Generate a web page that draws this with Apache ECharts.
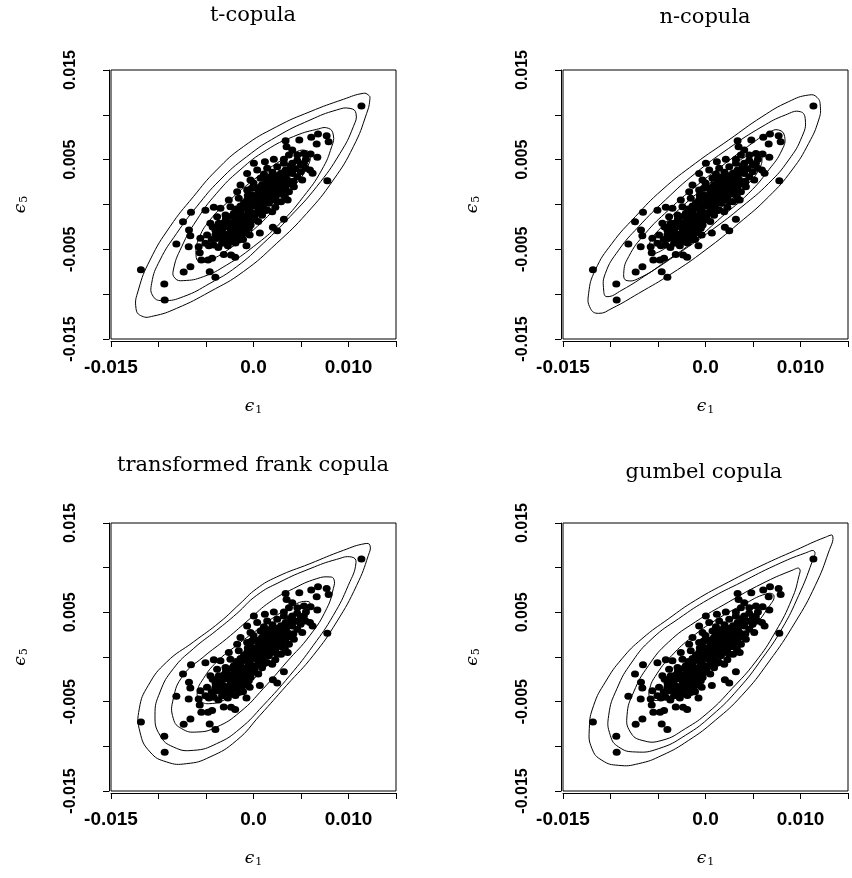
<!DOCTYPE html>
<html>
<head>
<meta charset="utf-8">
<title>copula contours</title>
<script src="https://cdn.jsdelivr.net/npm/echarts@6/dist/echarts.min.js"></script>
<style>
  html, body { margin: 0; padding: 0; background: #fff; }
  #main { width: 852px; height: 878px; }
</style>
</head>
<body>
<div id="main"></div>
<script>
// (eps1, eps5) residual pairs, the same sample is drawn in all four panels
var points = [
  [0.00338,0.00712],[0.00482,0.00719],[0.00608,0.00749],[0.00679,0.00786],[0.00770,0.00767],
  [0.00791,0.00700],[0.00665,0.00674],[0.00348,0.00645],[0.00408,0.00608],[0.00373,0.00552],
  [0.00461,0.00552],[0.00531,0.00570],[0.00601,0.00563],[0.00672,0.00526],[0.00552,0.00504],
  [0.00777,0.00266],[0.00622,0.00348],[0.00004,0.00459],[0.00120,0.00478],[0.00214,0.00504],
  [0.00320,0.00504],[0.00408,0.00459],[0.00496,0.00440],[-0.00067,0.00347],[0.00039,0.00385],
  [0.00144,0.00403],[0.00250,0.00422],[0.00338,0.00385],[0.00408,0.00347],[0.00496,0.00366],
  [0.00549,0.00403],[0.00594,0.00385],[-0.00137,0.00217],[-0.00032,0.00273],[0.00074,0.00292],
  [0.00179,0.00310],[0.00285,0.00292],[0.00355,0.00273],[0.00461,0.00310],[0.00513,0.00273],
  [-0.00172,0.00143],[-0.00067,0.00162],[0.00039,0.00180],[0.00144,0.00199],[0.00232,0.00217],
  [0.00338,0.00199],[0.00425,0.00199],[-0.00260,0.00050],[-0.00155,0.00069],[-0.00067,0.00050],
  [0.00004,0.00087],[0.00109,0.00106],[0.00197,0.00106],[0.00285,0.00117],[0.00373,0.00143],
  [-0.00348,-0.00043],[-0.00243,-0.00024],[-0.00137,-0.00017],[-0.00032,-0.00006],[0.00074,0.00013],
  [0.00162,0.00013],[0.00250,0.00032],[-0.00418,-0.00032],[-0.00506,-0.00065],[-0.00383,-0.00136],
  [-0.00295,-0.00117],[-0.00207,-0.00098],[-0.00120,-0.00117],[-0.00032,-0.00080],[0.00056,-0.00061],
  [0.00144,-0.00061],[0.00197,-0.00080],[-0.00559,-0.00377],[-0.00489,-0.00340],[-0.00401,-0.00340],
  [-0.00313,-0.00321],[-0.00225,-0.00303],[-0.00137,-0.00284],[-0.00049,-0.00266],[-0.00454,-0.00210],
  [-0.00366,-0.00210],[-0.00278,-0.00191],[-0.00190,-0.00173],[-0.00102,-0.00191],[-0.00014,-0.00173],
  [-0.00577,-0.00470],[-0.00506,-0.00433],[-0.00418,-0.00451],[-0.00331,-0.00433],[-0.00243,-0.00414],
  [-0.00155,-0.00396],[-0.00306,-0.00247],[-0.00207,-0.00247],[-0.00566,-0.00537],[-0.00549,-0.00619],
  [-0.00478,-0.00619],[-0.00436,-0.00600],[-0.00313,-0.00559],[-0.00236,-0.00563],[-0.00193,-0.00589],
  [-0.00074,-0.00459],[0.00067,-0.00318],[0.00204,-0.00255],[0.00250,-0.00292],[0.00320,-0.00165],
  [-0.00812,-0.00440],[-0.00742,-0.00191],[-0.00658,-0.00087],[-0.00679,-0.00284],[-0.00665,-0.00348],
  [-0.00682,-0.00470],[-0.01185,-0.00727],[-0.00939,-0.00886],[-0.00935,-0.01065],[-0.00735,-0.00753],
  [-0.00664,-0.00693],[-0.00461,-0.00749],[-0.00401,-0.00812],[0.01136,0.01098],
  [-0.00260,-0.00230],[-0.00220,-0.00200],[-0.00180,-0.00220],[-0.00140,-0.00200],[-0.00100,-0.00240],
  [-0.00060,-0.00210],[-0.00240,-0.00280],[-0.00200,-0.00320],[-0.00160,-0.00300],[-0.00120,-0.00330],
  [-0.00080,-0.00310],[-0.00040,-0.00340],[-0.00190,-0.00140],[-0.00150,-0.00160],[-0.00110,-0.00130],
  [-0.00070,-0.00150],[-0.00030,-0.00120],[0.00010,-0.00140],[-0.00280,-0.00360],[-0.00220,-0.00360],
  [-0.00170,-0.00350],[-0.00340,-0.00300],[-0.00360,-0.00260],[-0.00290,-0.00160],[-0.00130,-0.00060],
  [-0.00090,-0.00030],[-0.00050,-0.00090],[0.00020,-0.00020],[0.00050,-0.00190],[0.00090,-0.00120],
  [-0.00390,-0.00380],[-0.00340,-0.00360],[-0.00440,-0.00390],[-0.00470,-0.00460],[-0.00370,-0.00480],
  [-0.00270,-0.00460],[-0.00190,-0.00430],[-0.00110,-0.00390],
  [0.00030,0.00040],[0.00070,0.00060],[0.00110,0.00040],[0.00150,0.00070],[0.00190,0.00050],
  [0.00230,0.00080],[0.00050,0.00130],[0.00090,0.00150],[0.00130,0.00130],[0.00170,0.00160],
  [0.00210,0.00140],[0.00260,0.00170],[0.00300,0.00150],[0.00330,0.00090],[0.00090,0.00220],
  [0.00130,0.00250],[0.00170,0.00230],[0.00210,0.00260],[0.00250,0.00240],[0.00300,0.00260],
  [0.00360,0.00230],[0.00110,0.00340],[0.00200,0.00360],[0.00290,0.00350],[0.00340,0.00320],
  [0.00440,0.00400],[0.00390,0.00430],[0.00320,0.00460],[0.00460,0.00490],[0.00530,0.00460],
  [0.00230,-0.00030],[0.00290,0.00030],[0.00360,0.00050],[0.00000,0.00240],[-0.00020,0.00110],
  [-0.00060,0.00100],[-0.00100,0.00020],[-0.00180,-0.00050],[-0.00230,-0.00130],[-0.00310,-0.00200],
  [0.00420,0.00260],
  [-0.00320,-0.00380],[-0.00250,-0.00330],[-0.00150,-0.00250],[-0.00090,-0.00270],[-0.00030,-0.00230],
  [-0.00200,-0.00260],[-0.00120,-0.00170],[-0.00170,-0.00100],[-0.00050,-0.00050],[0.00040,-0.00090],
  [0.00010,0.00040],[0.00080,0.00090],[0.00120,0.00180],[0.00060,0.00190],[0.00160,0.00100],
  [0.00200,0.00190],[0.00240,0.00130],[0.00270,0.00210],[0.00150,0.00290],[0.00240,0.00320],
  [-0.00400,-0.00290],[-0.00430,-0.00250],[-0.00270,-0.00400],[-0.00150,-0.00360],[-0.00060,-0.00180],
  [0.00100,-0.00030],[0.00350,0.00280],[0.00380,0.00370],[-0.00020,0.00180],[0.00120,-0.00070]
];

// density contours, inner level first
var tContours = [
  [[0.00595,0.00552],[0.00560,0.00600],[0.00454,0.00589],[0.00244,0.00459],[-0.00002,0.00273],[-0.00247,0.00050],[-0.00458,-0.00173],[-0.00581,-0.00396],[-0.00605,-0.00563],[-0.00570,-0.00638],[-0.00458,-0.00619],[-0.00247,-0.00489],[-0.00002,-0.00284],[0.00244,-0.00024],[0.00454,0.00236],[0.00577,0.00440]],
  [[0.00840,0.00775],[0.00788,0.00850],[0.00665,0.00838],[0.00419,0.00757],[0.00138,0.00608],[-0.00142,0.00385],[-0.00388,0.00125],[-0.00598,-0.00173],[-0.00756,-0.00471],[-0.00844,-0.00731],[-0.00826,-0.00823],[-0.00739,-0.00849],[-0.00528,-0.00805],[-0.00283,-0.00675],[-0.00002,-0.00471],[0.00279,-0.00211],[0.00525,0.00087],[0.00718,0.00385],[0.00823,0.00645]],
  [[0.01079,0.01016],[0.01016,0.01072],[0.00875,0.01054],[0.00595,0.00942],[0.00244,0.00757],[-0.00072,0.00533],[-0.00353,0.00273],[-0.00598,-0.00024],[-0.00809,-0.00322],[-0.00984,-0.00619],[-0.01072,-0.00879],[-0.01054,-0.01028],[-0.00949,-0.01072],[-0.00739,-0.01028],[-0.00458,-0.00879],[-0.00177,-0.00693],[0.00103,-0.00433],[0.00384,-0.00136],[0.00665,0.00199],[0.00911,0.00571],[0.01051,0.00868]],
  [[0.01226,0.01184],[0.01209,0.01221],[0.01156,0.01240],[0.00946,0.01173],[0.00595,0.01035],[0.00244,0.00868],[-0.00107,0.00645],[-0.00388,0.00385],[-0.00633,0.00087],[-0.00879,-0.00247],[-0.01089,-0.00619],[-0.01212,-0.00954],[-0.01237,-0.01158],[-0.01177,-0.01244],[-0.01054,-0.01244],[-0.00809,-0.01158],[-0.00458,-0.00972],[-0.00107,-0.00749],[0.00244,-0.00433],[0.00560,-0.00099],[0.00840,0.00273],[0.01051,0.00645],[0.01191,0.01016]]
];
var nContours = [
  [[0.00595,0.00533],[0.00560,0.00589],[0.00454,0.00552],[0.00244,0.00403],[-0.00002,0.00199],[-0.00247,-0.00024],[-0.00458,-0.00247],[-0.00581,-0.00414],[-0.00591,-0.00526],[-0.00528,-0.00545],[-0.00353,-0.00433],[-0.00107,-0.00247],[0.00173,-0.00024],[0.00419,0.00199],[0.00560,0.00385]],
  [[0.00833,0.00757],[0.00770,0.00831],[0.00665,0.00801],[0.00490,0.00682],[0.00209,0.00459],[-0.00107,0.00199],[-0.00388,-0.00061],[-0.00633,-0.00322],[-0.00809,-0.00582],[-0.00861,-0.00768],[-0.00826,-0.00849],[-0.00668,-0.00805],[-0.00423,-0.00638],[-0.00107,-0.00396],[0.00173,-0.00136],[0.00454,0.00125],[0.00665,0.00385],[0.00805,0.00608]],
  [[0.01051,0.00942],[0.00998,0.01035],[0.00840,0.00998],[0.00595,0.00868],[0.00244,0.00626],[-0.00107,0.00348],[-0.00423,0.00050],[-0.00704,-0.00247],[-0.00914,-0.00509],[-0.01054,-0.00768],[-0.01072,-0.00954],[-0.01037,-0.01028],[-0.00879,-0.00954],[-0.00598,-0.00768],[-0.00283,-0.00545],[0.00068,-0.00284],[0.00384,-0.00024],[0.00665,0.00236],[0.00875,0.00496],[0.01016,0.00757]],
  [[0.01209,0.01091],[0.01174,0.01195],[0.01086,0.01221],[0.00875,0.01147],[0.00595,0.00979],[0.00244,0.00719],[-0.00107,0.00459],[-0.00458,0.00162],[-0.00739,-0.00136],[-0.00984,-0.00433],[-0.01160,-0.00731],[-0.01230,-0.00991],[-0.01212,-0.01158],[-0.01125,-0.01214],[-0.00984,-0.01158],[-0.00704,-0.00991],[-0.00353,-0.00768],[-0.00002,-0.00509],[0.00349,-0.00211],[0.00665,0.00087],[0.00911,0.00385],[0.01086,0.00682],[0.01191,0.00942]]
];
var fContours = [
  [[0.00595,0.00597],[0.00560,0.00623],[0.00454,0.00597],[0.00244,0.00466],[0.00033,0.00299],[-0.00177,0.00131],[-0.00388,-0.00056],[-0.00528,-0.00243],[-0.00591,-0.00392],[-0.00563,-0.00485],[-0.00458,-0.00522],[-0.00283,-0.00466],[-0.00037,-0.00280],[0.00173,-0.00056],[0.00384,0.00205],[0.00542,0.00429]],
  [[0.00847,0.00869],[0.00805,0.00896],[0.00665,0.00877],[0.00419,0.00765],[0.00173,0.00616],[-0.00037,0.00429],[-0.00283,0.00205],[-0.00528,0.00000],[-0.00739,-0.00205],[-0.00844,-0.00466],[-0.00844,-0.00690],[-0.00756,-0.00802],[-0.00598,-0.00840],[-0.00388,-0.00784],[-0.00142,-0.00616],[0.00103,-0.00354],[0.00349,-0.00056],[0.00595,0.00243],[0.00770,0.00541],[0.00840,0.00765]],
  [[0.01079,0.01056],[0.01033,0.01119],[0.00875,0.01093],[0.00595,0.00989],[0.00279,0.00840],[0.00033,0.00690],[-0.00177,0.00485],[-0.00388,0.00299],[-0.00633,0.00093],[-0.00844,-0.00131],[-0.00984,-0.00392],[-0.01037,-0.00653],[-0.00984,-0.00877],[-0.00844,-0.01007],[-0.00633,-0.01045],[-0.00388,-0.00970],[-0.00142,-0.00802],[0.00103,-0.00541],[0.00384,-0.00205],[0.00630,0.00131],[0.00840,0.00466],[0.00998,0.00802]],
  [[0.01226,0.01250],[0.01174,0.01269],[0.00946,0.01194],[0.00595,0.01045],[0.00244,0.00896],[0.00033,0.00765],[-0.00142,0.00597],[-0.00353,0.00392],[-0.00633,0.00168],[-0.00914,-0.00056],[-0.01107,-0.00317],[-0.01202,-0.00578],[-0.01195,-0.00840],[-0.01089,-0.01063],[-0.00914,-0.01175],[-0.00704,-0.01194],[-0.00458,-0.01119],[-0.00177,-0.00933],[0.00068,-0.00653],[0.00349,-0.00317],[0.00630,0.00019],[0.00875,0.00392],[0.01086,0.00802],[0.01209,0.01138]]
];
var gContours = [
  [[0.00721,0.00683],[0.00647,0.00709],[0.00384,0.00578],[0.00103,0.00410],[-0.00142,0.00224],[-0.00353,0.00019],[-0.00511,-0.00187],[-0.00591,-0.00373],[-0.00570,-0.00466],[-0.00458,-0.00474],[-0.00247,-0.00354],[-0.00002,-0.00168],[0.00244,0.00056],[0.00490,0.00317],[0.00665,0.00560]],
  [[0.00988,0.00989],[0.00911,0.00970],[0.00595,0.00821],[0.00244,0.00616],[-0.00107,0.00392],[-0.00388,0.00168],[-0.00598,-0.00093],[-0.00756,-0.00392],[-0.00826,-0.00653],[-0.00791,-0.00840],[-0.00668,-0.00933],[-0.00458,-0.00933],[-0.00212,-0.00802],[0.00033,-0.00616],[0.00279,-0.00354],[0.00525,-0.00056],[0.00735,0.00280],[0.00911,0.00653],[0.00981,0.00896]],
  [[0.01146,0.01183],[0.01051,0.01164],[0.00735,0.01026],[0.00384,0.00840],[0.00033,0.00646],[-0.00283,0.00429],[-0.00563,0.00205],[-0.00774,-0.00056],[-0.00932,-0.00354],[-0.01019,-0.00653],[-0.01002,-0.00877],[-0.00914,-0.01007],[-0.00739,-0.01063],[-0.00493,-0.01026],[-0.00212,-0.00877],[0.00068,-0.00653],[0.00349,-0.00354],[0.00595,-0.00019],[0.00805,0.00317],[0.00981,0.00690],[0.01121,0.01063]],
  [[0.01339,0.01354],[0.01260,0.01340],[0.00946,0.01194],[0.00595,0.01026],[0.00244,0.00840],[-0.00107,0.00634],[-0.00388,0.00429],[-0.00668,0.00205],[-0.00879,-0.00019],[-0.01054,-0.00280],[-0.01177,-0.00541],[-0.01223,-0.00802],[-0.01195,-0.01026],[-0.01089,-0.01157],[-0.00914,-0.01213],[-0.00704,-0.01194],[-0.00458,-0.01101],[-0.00177,-0.00933],[0.00103,-0.00709],[0.00384,-0.00429],[0.00665,-0.00056],[0.00946,0.00392],[0.01156,0.00802],[0.01296,0.01175]]
];

var panelTitles = ['t-copula', 'n-copula', 'transformed frank copula', 'gumbel copula'];
var panelContours = [tContours, nContours, fContours, gContours];

var xTicks = [-0.015, 0, 0.01];
var xTickText = ['-0.015', '0.0', '0.010'];
var yTicks = [-0.015, -0.005, 0.005, 0.015];
var yTickText = ['-0.015', '-0.005', '0.005', '0.015'];

var boxes = [
  {left: 111, top: 70, width: 285, height: 269},
  {left: 563, top: 70, width: 285, height: 269},
  {left: 111, top: 523, width: 285, height: 268},
  {left: 563, top: 523, width: 285, height: 268}
];
var titlePos = [[253, 5], [705, 7], [253, 455], [704, 462]];

function pickLabel(ticks, texts) {
  return function (v) {
    for (var i = 0; i < ticks.length; i++) {
      if (Math.abs(v - ticks[i]) < 1e-9) return texts[i];
    }
    return '';
  };
}

// one closed, smoothed contour; vertices go through the axis scales
function contourRenderer(ring) {
  return function (params, api) {
    var pts = ring.map(function (p) { return api.coord(p); });
    return {
      type: 'polygon',
      shape: {points: pts, smooth: 0.5},
      style: {fill: 'none', stroke: '#000', lineWidth: 1}
    };
  };
}

var epsRich = {
  e: {fontFamily: 'DejaVu Serif', fontStyle: 'italic', fontSize: 17, color: '#000'},
  s: {fontFamily: 'DejaVu Serif', fontSize: 11, color: '#000', padding: [8, 0, 0, 1]}
};

var grid = [], xAxis = [], yAxis = [], series = [], graphic = [];

boxes.forEach(function (b, i) {
  grid.push({
    left: b.left, top: b.top, width: b.width, height: b.height,
    show: true, borderColor: '#000', borderWidth: 1, backgroundColor: 'transparent',
    containLabel: false, outerBoundsMode: 'none'
  });
  xAxis.push({
    gridIndex: i, type: 'value', min: -0.015, max: 0.015, interval: 0.005, offset: 2,
    axisLine: {onZero: false, lineStyle: {color: '#000', width: 1}},
    axisTick: {length: 6, lineStyle: {color: '#000', width: 1}},
    splitLine: {show: false},
    axisLabel: {
      margin: 17, color: '#000', fontFamily: 'Liberation Sans', fontSize: 19, fontWeight: 'bold',
      showMinLabel: true, showMaxLabel: true, hideOverlap: false,
      formatter: pickLabel(xTicks, xTickText)
    },
    name: '{e|ϵ}{s|1}', nameLocation: 'middle', nameGap: 56, nameMoveOverlap: false,
    nameTextStyle: {rich: epsRich}
  });
  yAxis.push({
    gridIndex: i, type: 'value', min: -0.015, max: 0.015, interval: 0.005, offset: 2,
    axisLine: {onZero: false, lineStyle: {color: '#000', width: 1}},
    axisTick: {length: 6, lineStyle: {color: '#000', width: 1}},
    splitLine: {show: false},
    axisLabel: {
      rotate: 90, margin: 30, color: '#000', fontFamily: 'Liberation Sans', fontSize: 16, fontWeight: 'bold',
      showMinLabel: true, showMaxLabel: true, hideOverlap: false,
      formatter: pickLabel(yTicks, yTickText)
    },
    name: '{e|ϵ}{s|5}', nameLocation: 'middle', nameRotate: 90, nameGap: 79, nameMoveOverlap: false,
    nameTextStyle: {rich: epsRich}
  });

  panelContours[i].forEach(function (ring) {
    series.push({
      type: 'custom', coordinateSystem: 'cartesian2d', xAxisIndex: i, yAxisIndex: i,
      data: [ring[0]], silent: true, clip: true,
      renderItem: contourRenderer(ring)
    });
  });
  series.push({
    type: 'scatter', xAxisIndex: i, yAxisIndex: i,
    data: points, symbol: 'circle', symbolSize: [8, 7], silent: true,
    itemStyle: {color: '#000', opacity: 1}, z: 3
  });

  graphic.push({
    type: 'text', x: titlePos[i][0], y: titlePos[i][1], silent: true,
    style: {
      text: panelTitles[i], fill: '#000', fontFamily: 'DejaVu Serif', fontSize: 21,
      align: 'center', verticalAlign: 'top'
    }
  });
});

var myChart = echarts.init(document.getElementById('main'), null, {renderer: 'canvas'});
myChart.setOption({
  animation: false,
  backgroundColor: '#fff',
  grid: grid,
  xAxis: xAxis,
  yAxis: yAxis,
  series: series,
  graphic: graphic
});
</script>
</body>
</html>
